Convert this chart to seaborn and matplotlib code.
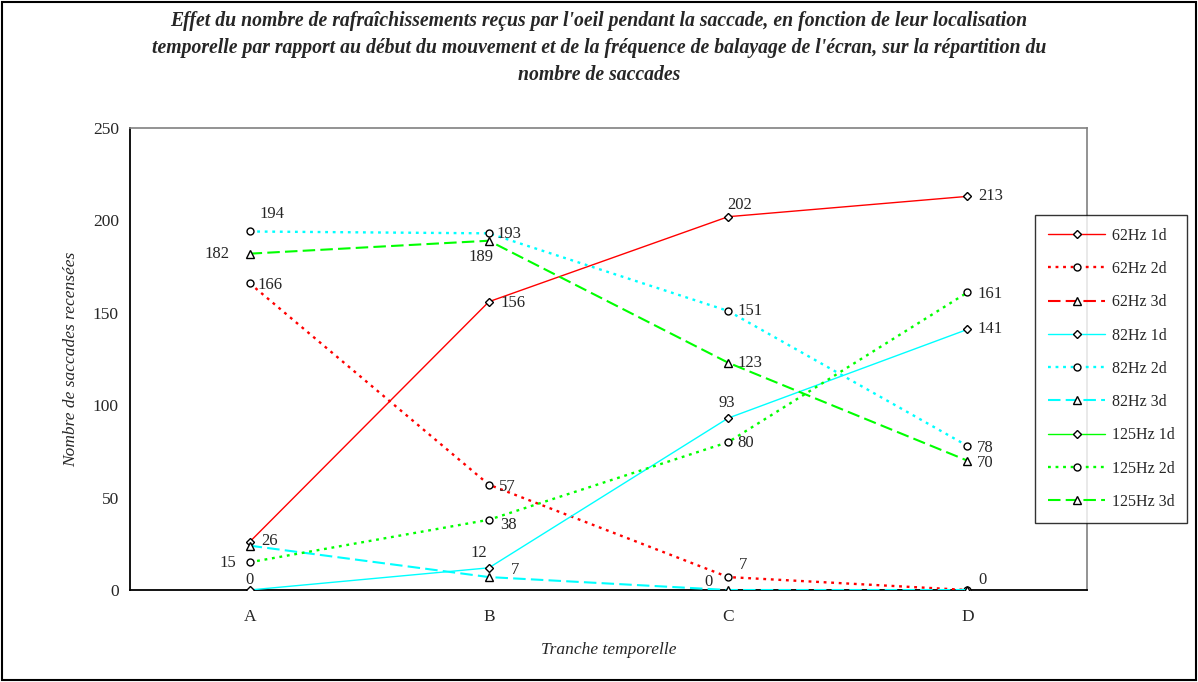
import numpy as np
import pandas as pd
import matplotlib
matplotlib.use("Agg")
import matplotlib.pyplot as plt
from matplotlib.lines import Line2D
from matplotlib.patches import Rectangle
import seaborn as sns

# ===== données =====
tranches = ['A', 'B', 'C', 'D']
series_noms = ['62Hz 1d', '62Hz 2d', '62Hz 3d',
               '82Hz 1d', '82Hz 2d', '82Hz 3d',
               '125Hz 1d', '125Hz 2d', '125Hz 3d']
v_62_1d = [26, 156, 202, 213]
v_62_2d = [166, 57, 7, 0]
v_62_3d = [np.nan, np.nan, np.nan, np.nan]
v_82_1d = [0, 12, 93, 141]
v_82_2d = [194, 193, 151, 78]
v_82_3d = [24, 7, 0, 0]
v_125_1d = [np.nan, np.nan, np.nan, np.nan]
v_125_2d = [15, 38, 80, 161]
v_125_3d = [182, 189, 123, 70]
valeurs = [v_62_1d, v_62_2d, v_62_3d, v_82_1d, v_82_2d, v_82_3d,
           v_125_1d, v_125_2d, v_125_3d]

# ===== styles =====
couleurs = {'62Hz': '#FF0000', '82Hz': '#00FFFF', '125Hz': '#00FF00'}
styles = {'1d': ('-', 'D', 4.5, 1.0),
          '2d': ((0, (1.2, 2.0)), 'o', 5, 1.7),
          '3d': ((0, (6, 2.5)), '^', 6, 1.5)}

# décalage des étiquettes (px, x droite / y bas), None = pas d'étiquette
decalages = {
    '62Hz 1d': [(20, -1), (24, 1), (12, -12), (23, 0)],
    '62Hz 2d': [(20, 2), (18, 2), (15, -12), (15, -10)],
    '82Hz 1d': [(0, -10), (-10, -15), (-1, -15), (23, 0)],
    '82Hz 2d': [(22, -17), (20, 1), (22, 0), (18, 2)],
    '82Hz 3d': [None, (26, -7), (-20, -8), None],
    '125Hz 2d': [(-22, 1), (20, 5), (18, 1), (23, 2)],
    '125Hz 3d': [(-33, 0), (-8, 16), (22, 0), (18, 2)],
}

sns.set_style('white')
plt.rcParams['font.family'] = ['Liberation Serif', 'DejaVu Serif']

fig = plt.figure(figsize=(11.98, 6.82), dpi=100)
ax = fig.add_axes([130 / 1198, 1 - 590 / 682, (1087 - 130) / 1198, (590 - 128) / 682])

x_pos = np.arange(len(tranches))
handles = []
for nom, vals in zip(series_noms, valeurs):
    freq, typ = nom.split(' ')
    ls, mk, ms, lw = styles[typ]
    col = couleurs[freq]
    kw = dict(color=col, linestyle=ls, linewidth=lw, marker=mk, markersize=ms,
              markerfacecolor='white', markeredgecolor='black', markeredgewidth=1.0)
    if not np.all(np.isnan(vals)):
        sns.lineplot(x=x_pos, y=vals, ax=ax, legend=False, zorder=3, **kw)
    handles.append(Line2D([0], [0], label=nom, **kw))
    if nom in decalages:
        for i, v in enumerate(vals):
            d = decalages[nom][i]
            if d is None:
                continue
            ax.annotate(str(int(v)), (x_pos[i], v), xytext=(d[0] * 0.72, -d[1] * 0.72),
                        textcoords='offset points', ha='center', va='center',
                        fontsize=12, zorder=5)

ax.set_xlim(-0.5, 3.5)
ax.set_ylim(0, 250)
ax.set_yticks([0, 50, 100, 150, 200, 250])
ax.set_xticks(x_pos)
ax.set_xticklabels(tranches)
ax.set_xticks(np.arange(-0.5, 4, 1), minor=True)
ax.tick_params(axis='x', which='major', length=0, labelsize=12.5, pad=14)
ax.tick_params(axis='x', which='minor', length=8, width=1, direction='inout', color='#333333')
ax.tick_params(axis='y', length=5, width=1, direction='out', color='#333333', labelsize=12.5, pad=3)

for s in ['left', 'bottom']:
    ax.spines[s].set_color('black')
    ax.spines[s].set_linewidth(1.3)
for s in ['top', 'right']:
    ax.spines[s].set_color('#808080')
    ax.spines[s].set_linewidth(1.2)

ax.set_xlabel('Tranche temporelle', fontstyle='italic', fontsize=12.5, labelpad=12)
ax.set_ylabel('Nombre de saccades recensées', fontstyle='italic', fontsize=12.5, labelpad=10)

titre = ("Effet du nombre de rafraîchissements reçus par l'oeil pendant la saccade, en fonction de leur localisation\n"
         "temporelle par rapport au début du mouvement et de la fréquence de balayage de l'écran, sur la répartition du\n"
         "nombre de saccades")
fig.text(0.5, 1 - 11 / 682, titre, ha='center', va='top', fontsize=14.2,
         fontweight='bold', fontstyle='italic', linespacing=1.46)

leg = fig.legend(handles=handles, loc='upper left',
                 bbox_to_anchor=(1035 / 1198, 1 - 215 / 682),
                 frameon=True, fancybox=False, fontsize=11.5,
                 handlelength=3.6, labelspacing=1.08, borderpad=0.8,
                 handletextpad=0.4, borderaxespad=0)
leg.get_frame().set_edgecolor('black')
leg.get_frame().set_linewidth(1.0)

fig.patches.append(Rectangle((2 / 1198, 2 / 682), 1 - 4 / 1198, 1 - 4 / 682,
                             transform=fig.transFigure, fill=False,
                             edgecolor='black', linewidth=1.5))

fig.savefig('out.png', dpi=100)
